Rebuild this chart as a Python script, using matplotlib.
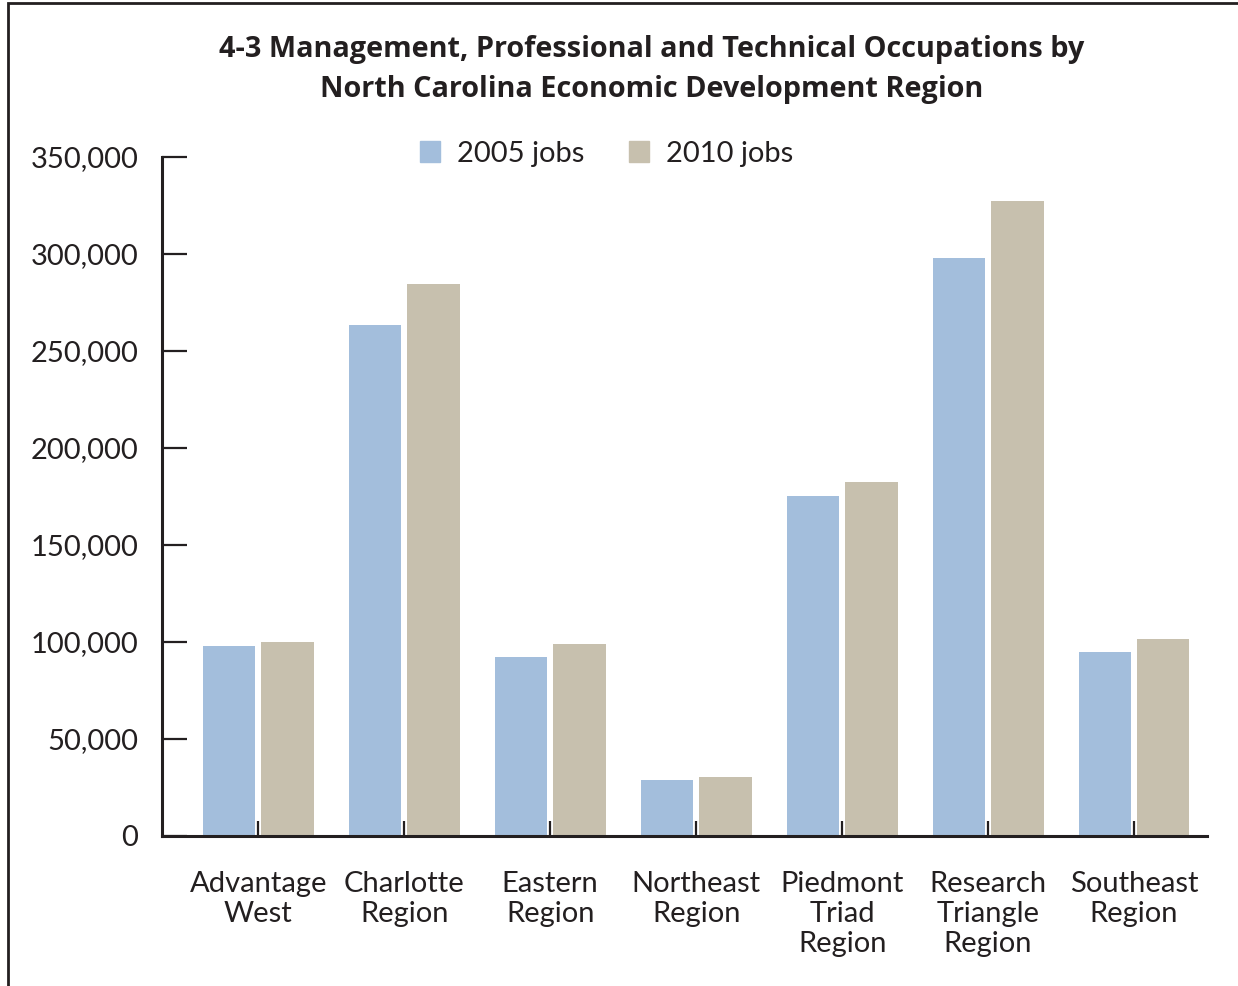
import numpy as np
import matplotlib
matplotlib.use("Agg")
import matplotlib.pyplot as plt
from matplotlib.patches import Rectangle, Patch
from matplotlib.ticker import FuncFormatter

regions = ["Advantage\nWest", "Charlotte\nRegion", "Eastern\nRegion", "Northeast\nRegion",
           "Piedmont\nTriad\nRegion", "Research\nTriangle\nRegion", "Southeast\nRegion"]
jobs_2005 = [98000, 263500, 92300, 28900, 175300, 298000, 94800]
jobs_2010 = [100000, 284500, 99000, 30400, 182500, 327300, 101500]
series_names = ["2005 jobs", "2010 jobs"]

blue = "#a3bedc"
tan = "#c7c0ae"
ink = "#231f20"

plt.rcParams['font.family'] = ['Lato', 'DejaVu Sans']

fig = plt.figure(figsize=(12.38, 9.86), dpi=100)
ax = fig.add_axes([162/1238, 1 - 836/986, (1207-162)/1238, (836-157)/986])

x = np.arange(len(regions))
w = 0.36
ax.bar(x - 0.2, jobs_2005, w, color=blue, zorder=2)
ax.bar(x + 0.2, jobs_2010, w, color=tan, zorder=2)

ax.set_xlim(-0.66, 6.5)
ax.set_ylim(0, 350000)
ax.set_yticks(np.arange(0, 350001, 50000))
ax.yaxis.set_major_formatter(FuncFormatter(lambda v, p: f"{int(v):,}"))
ax.set_xticks(x)
ax.set_xticklabels(regions, linespacing=1.2)

for s in ["top", "right"]:
    ax.spines[s].set_visible(False)
for s in ["left", "bottom"]:
    ax.spines[s].set_linewidth(2.2)
    ax.spines[s].set_color(ink)
    ax.spines[s].set_zorder(3)

ax.tick_params(axis="y", direction="in", length=18, width=1.6, color=ink,
               labelsize=21, labelcolor=ink, pad=17)
ax.tick_params(axis="x", direction="in", length=11, width=1.6, color=ink,
               labelsize=21, labelcolor=ink, pad=25)

title_font = ['Open Sans', 'DejaVu Sans']
fig.text(0.526, 0.950, "4-3 Management, Professional and Technical Occupations by",
         ha="center", va="center", fontsize=20.8, fontweight="bold", color=ink, family=title_font)
fig.text(0.526, 0.909, "North Carolina Economic Development Region",
         ha="center", va="center", fontsize=20.8, fontweight="bold", color=ink, family=title_font)

handles = [Patch(color=blue), Patch(color=tan)]
fig.legend(handles, series_names, loc="center", bbox_to_anchor=(0.49, 0.844), ncol=2,
           frameon=False, fontsize=21, handlelength=0.7, handleheight=0.7,
           handletextpad=0.6, columnspacing=1.5, labelcolor=ink)

fig.patches.append(Rectangle((8/1238, -0.1), 1.2, 1 - 3/986 + 0.1, transform=fig.transFigure,
                             fill=False, edgecolor=ink, linewidth=2, zorder=10))

fig.savefig("out.png", dpi=100, facecolor="white")
